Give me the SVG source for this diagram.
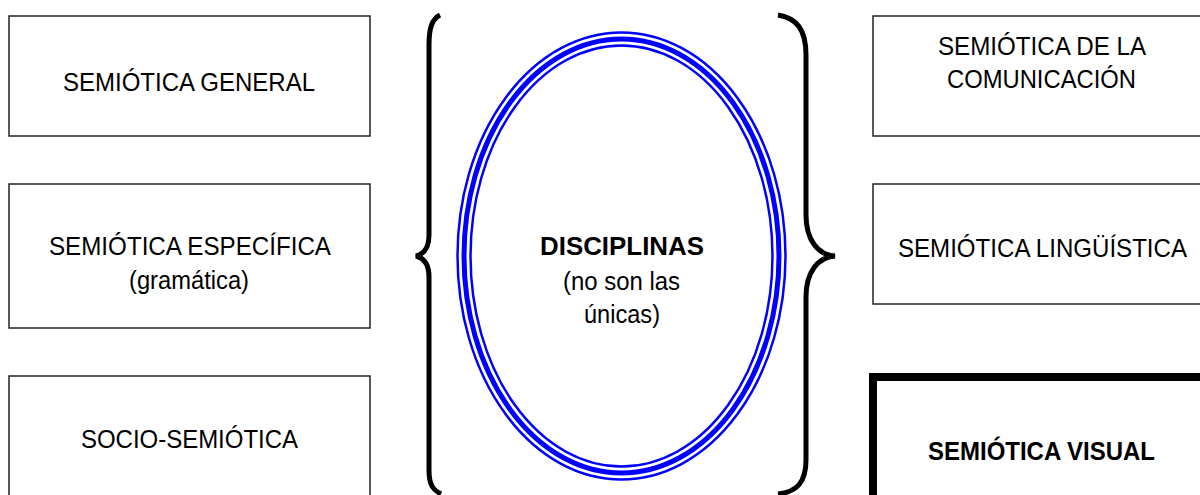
<svg xmlns="http://www.w3.org/2000/svg" width="1200" height="495" viewBox="0 0 1200 495">
<style>
.box{fill:#fff;stroke:#222;stroke-width:1.5}
.thick{fill:#fff;stroke:#000;stroke-width:8}
.t{font-family:"Liberation Sans",Arial,sans-serif;font-size:26px;fill:#000;text-anchor:middle}
.b{font-weight:bold}
.ell{fill:none;stroke:#0000ff}
.brace{fill:none;stroke:#000;stroke-width:5;stroke-linecap:butt}
</style>
<rect width="1200" height="495" fill="#fff"/>
<g id="semiotica-general">
<rect class="box" x="9" y="16" width="361" height="120"/>
<text class="t" x="189" y="91" textLength="252" lengthAdjust="spacingAndGlyphs">SEMIÓTICA GENERAL</text>
</g>
<g id="semiotica-especifica">
<rect class="box" x="9" y="184" width="361" height="144"/>
<text class="t" x="190" y="255" textLength="282" lengthAdjust="spacingAndGlyphs">SEMIÓTICA ESPECÍFICA</text>
<text class="t" x="189" y="289" textLength="120" lengthAdjust="spacingAndGlyphs">(gramática)</text>
</g>
<g id="socio-semiotica">
<rect class="box" x="9" y="376" width="361" height="140"/>
<text class="t" x="189.5" y="448" textLength="217" lengthAdjust="spacingAndGlyphs">SOCIO-SEMIÓTICA</text>
</g>
<g id="semiotica-comunicacion">
<rect class="box" x="873" y="16" width="345" height="120"/>
<text class="t" x="1042" y="55" textLength="208" lengthAdjust="spacingAndGlyphs">SEMIÓTICA DE LA</text>
<text class="t" x="1041.5" y="88" textLength="189" lengthAdjust="spacingAndGlyphs">COMUNICACIÓN</text>
</g>
<g id="semiotica-linguistica">
<rect class="box" x="873" y="184" width="345" height="120"/>
<text class="t" x="1042.5" y="257" textLength="289" lengthAdjust="spacingAndGlyphs">SEMIÓTICA LINGÜÍSTICA</text>
</g>
<g id="semiotica-visual">
<rect class="thick" x="873" y="377" width="345" height="140"/>
<text class="t b" x="1041.5" y="460" textLength="227" lengthAdjust="spacingAndGlyphs">SEMIÓTICA VISUAL</text>
</g>
<g id="disciplinas">
<ellipse class="ell" cx="621.5" cy="256" rx="164" ry="223.5" stroke-width="2.5"/>
<ellipse class="ell" cx="621.5" cy="256" rx="157.5" ry="217" stroke-width="5"/>
<ellipse class="ell" cx="621.5" cy="256" rx="151" ry="210.5" stroke-width="2.5"/>
<text class="t b" x="622" y="255" textLength="164" lengthAdjust="spacingAndGlyphs">DISCIPLINAS</text>
<text class="t" x="621.5" y="290" textLength="117" lengthAdjust="spacingAndGlyphs">(no son las</text>
<text class="t" x="622" y="323" textLength="76" lengthAdjust="spacingAndGlyphs">únicas)</text>
</g>
<g id="connectors">
<path class="brace" d="M 440,15 C 432,19 429,28 429,45 L 429,235 C 429,248 424,254 416,256 C 424,258 429,264 429,277 L 429,470 C 429,485 433,490 441,494"/>
<path class="brace" d="M 778,15 C 797,18 806,30 806,55 L 806,215 C 806,240 818,255 835,256 C 818,257 806,272 806,297 L 806,460 C 806,482 797,492 778,494"/>
</g>
</svg>
